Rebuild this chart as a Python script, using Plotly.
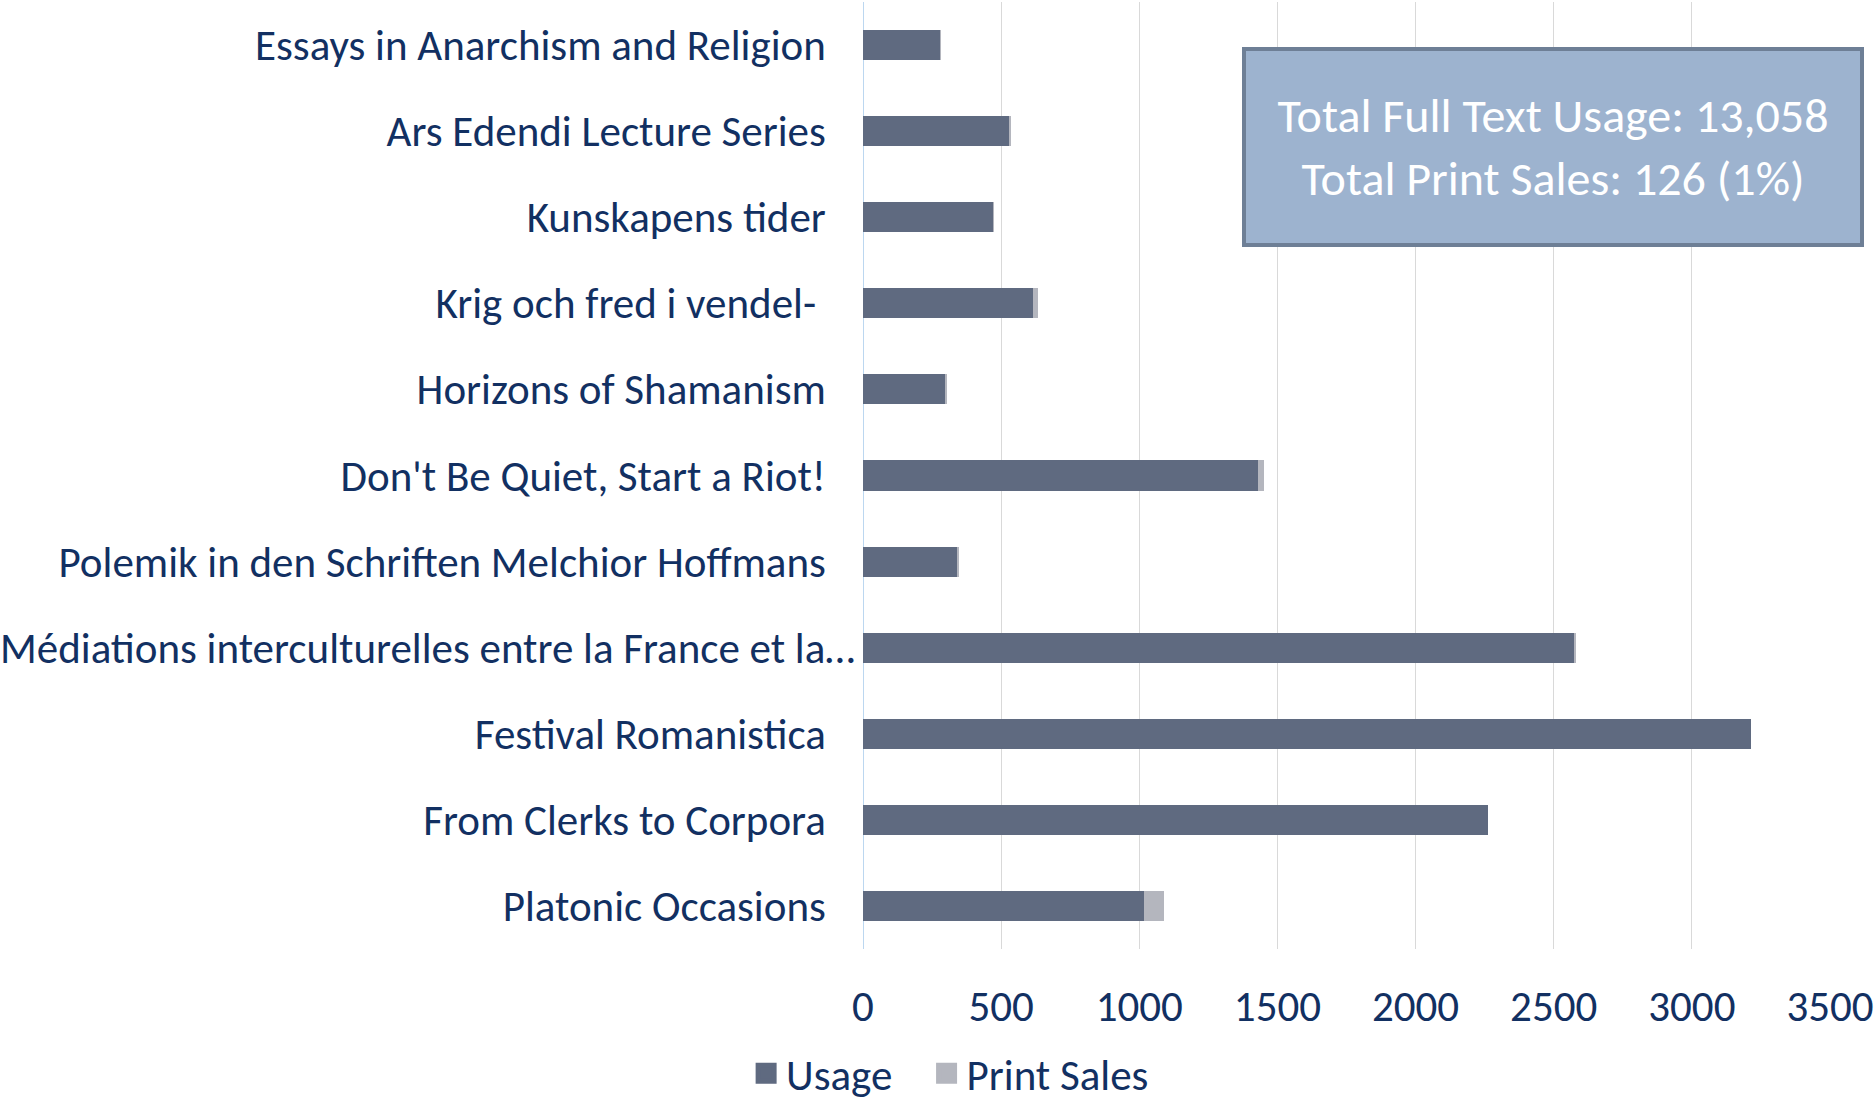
import plotly.graph_objects as go

titles = [
    "Essays in Anarchism and Religion",
    "Ars Edendi Lecture Series",
    "Kunskapens tider",
    "Krig och fred i vendel- ",
    "Horizons of Shamanism",
    "Don't Be Quiet, Start a Riot!",
    "Polemik in den Schriften Melchior Hoffmans",
    "Médiations interculturelles entre la France et la…",
    "Festival Romanistica",
    "From Clerks to Corpora",
    "Platonic Occasions",
]
usage = [279, 531, 473, 615, 300, 1428, 343, 2574, 3215, 2261, 1017]
print_sales = [1, 2, 1, 20, 1, 22, 1, 4, 0, 0, 74]
x_ticks = [0, 500, 1000, 1500, 2000, 2500, 3000, 3500]
series_names = ["Usage", "Print Sales"]
summary_lines = ["Total Full Text Usage: 13,058", "Total Print Sales: 126 (1%)"]

FONT = "Carlito, Lato, sans-serif"
TXT = "#123062"
C_USAGE = "#5F6A80"
C_PRINT = "#B4B6BE"
FS = 43

W, H = 1874, 1102
ml, mr, mt, mb = 863, 44, 2, 153

# Excel truncates the long title with an ellipsis that reaches closer to the axis;
# the other labels keep their usual padding (non-breaking spaces).
def tick_label(t):
    if t.endswith("…"):
        return t
    return t.rstrip() + "\u00a0" * (4 if t.endswith(" ") else 3)

fig = go.Figure()
fig.add_trace(go.Bar(
    y=titles, x=usage, orientation="h", name=series_names[0], showlegend=False,
    marker=dict(color=C_USAGE, line=dict(width=0)), width=0.35,
))
fig.add_trace(go.Bar(
    y=titles, x=print_sales, orientation="h", name=series_names[1], showlegend=False,
    marker=dict(color=C_PRINT, line=dict(width=0)), width=0.35,
))
# legend entries with larger square swatches (extra gap after the first entry)
for nm, col, pad in [(series_names[0], C_USAGE, 3), (series_names[1], C_PRINT, 0)]:
    fig.add_trace(go.Scatter(
        x=[None], y=[None], mode="markers", name=nm + "\u00a0" * pad,
        marker=dict(symbol="square", size=23, color=col,
                    line=dict(width=5, color=col)),
    ))

pw = W - ml - mr
ph = H - mt - mb
box_cx, box_cy = 1553, 147

fig.add_annotation(
    text="<br>".join(summary_lines),
    xref="paper", yref="paper",
    x=(box_cx - ml) / pw, y=1 - (box_cy - mt) / ph,
    xanchor="center", yanchor="middle",
    showarrow=False,
    font=dict(family=FONT, size=48, color="white"),
    bgcolor="#9DB3CF", bordercolor="#6E7F96", borderwidth=4,
    width=612, height=190, align="center",
)

fig.update_layout(
    width=W, height=H,
    margin=dict(l=ml, r=mr, t=mt, b=mb, autoexpand=False),
    barmode="stack",
    plot_bgcolor="white", paper_bgcolor="white",
    font=dict(family=FONT, size=FS, color=TXT),
    showlegend=True,
    legend=dict(
        orientation="h", xref="container", yref="container",
        x=0.507, xanchor="center", y=0.026, yanchor="middle",
        font=dict(family=FONT, size=FS, color=TXT),
        itemwidth=30, traceorder="normal",
    ),
)
fig.update_xaxes(
    range=[0, 3500], tickvals=x_ticks, ticktext=[str(v) for v in x_ticks],
    showgrid=True, gridcolor="#D9D9D9", gridwidth=1,
    zeroline=True, zerolinecolor="#BCD7F0", zerolinewidth=1,
    showline=False, ticks="", ticklabelstandoff=28,
    ticklabeloverflow="allow",
    tickfont=dict(family=FONT, size=FS, color=TXT),
)
fig.update_yaxes(
    categoryorder="array", categoryarray=titles, autorange="reversed",
    tickvals=titles, ticktext=[tick_label(t) for t in titles],
    showgrid=False, zeroline=False, showline=False, ticks="",
    ticklabelstandoff=7, ticklabeloverflow="allow",
    tickfont=dict(family=FONT, size=FS, color=TXT),
)

fig.write_html("out.html", config={"displayModeBar": False},
               post_script="document.body.style.margin='0';")
